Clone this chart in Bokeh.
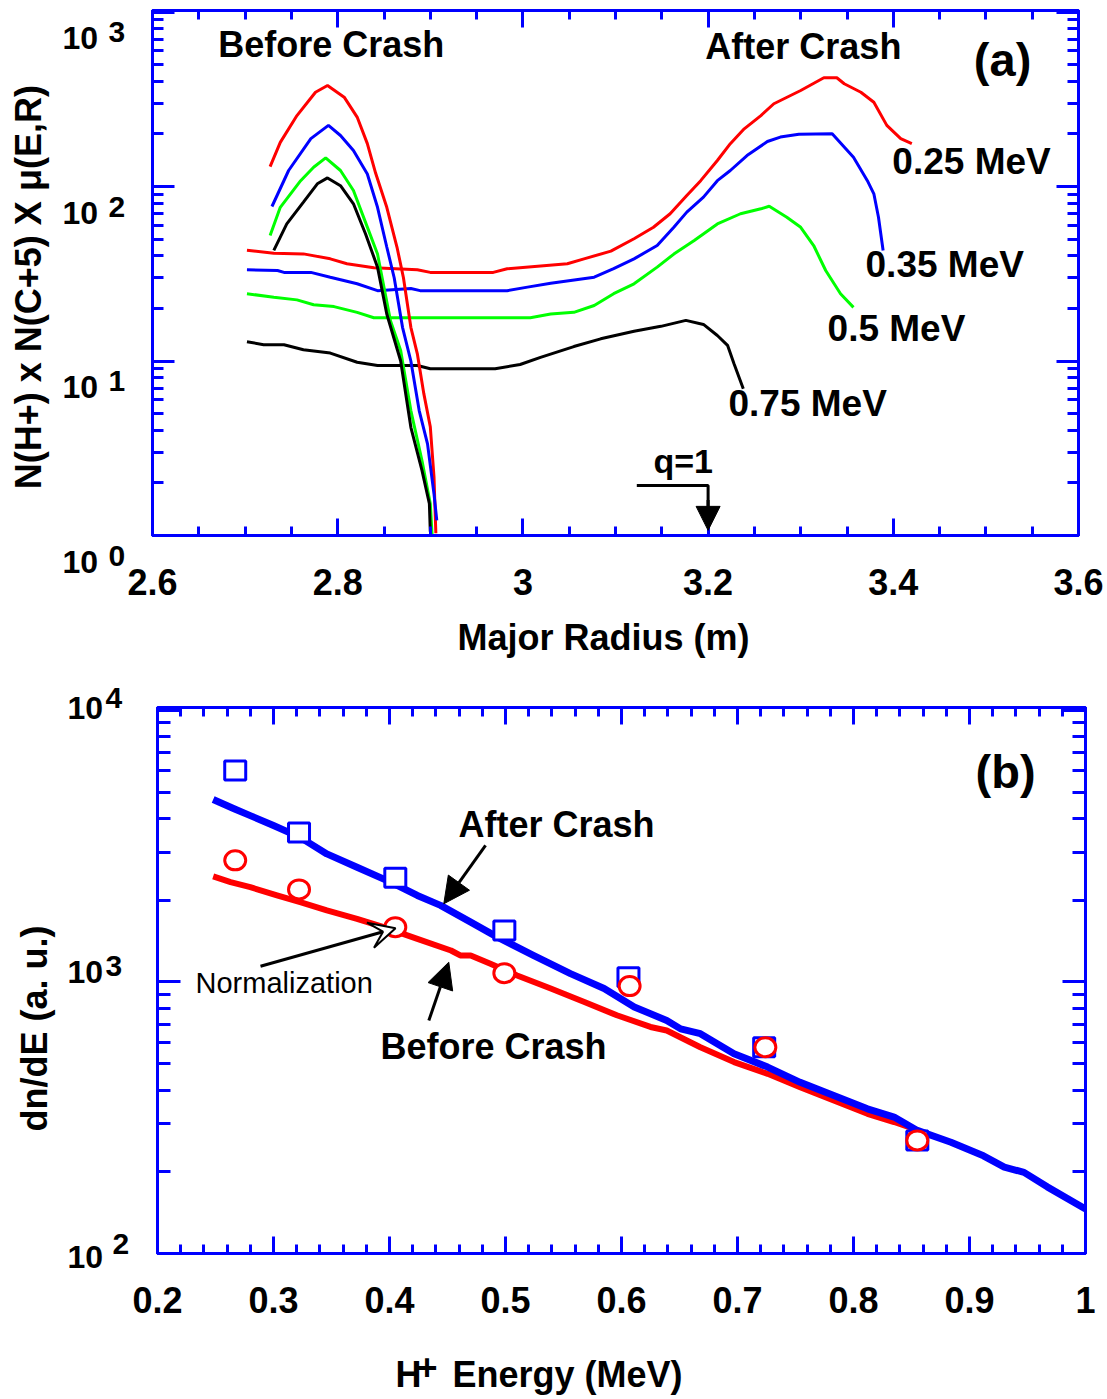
import math
from bokeh.plotting import figure
from bokeh.models import (FixedTicker, LinearAxis, LogAxis, Range1d, Label,
                          Arrow, NormalHead, VeeHead)
from bokeh.layouts import column, row
from bokeh.embed import file_html
from bokeh.resources import INLINE

FONT = "Liberation Sans"
BLUE = "#0000FF"
RED = "#FF0000"
GREEN = "#00FF00"
BLACK = "#000000"

# ---------------- (a) profiles versus major radius ----------------
energy_labels = ["0.25 MeV", "0.35 MeV", "0.5 MeV", "0.75 MeV"]

# before crash (peaked near 2.79 m)
r_before_025 = [2.727, 2.738, 2.756, 2.776, 2.789, 2.807, 2.821, 2.832, 2.841, 2.853,
                2.864, 2.871, 2.879, 2.886, 2.893, 2.900, 2.904, 2.906]
v_before_025 = [130, 179, 255, 347, 379, 325, 250, 176, 119, 76,
                45, 30, 15.6, 11, 6.5, 4.2, 2.16, 1.03]
r_before_035 = [2.729, 2.747, 2.771, 2.790, 2.803, 2.817, 2.832, 2.843, 2.853, 2.861,
                2.870, 2.879, 2.888, 2.897, 2.904, 2.907]
v_before_035 = [76.8, 123.5, 188, 224, 196, 161, 118, 76, 45, 30,
                15.6, 10, 5.2, 3.35, 1.73, 1.22]
r_before_050 = [2.727, 2.738, 2.760, 2.774, 2.787, 2.803, 2.817, 2.832, 2.843, 2.857,
                2.868, 2.879, 2.891, 2.900, 2.902]
v_before_050 = [52.4, 76, 108, 129, 146, 123.5, 94.8, 58.5, 41, 17,
                11.5, 5.2, 2.69, 1.52, 1.0]
r_before_075 = [2.731, 2.745, 2.763, 2.778, 2.789, 2.803, 2.817, 2.830, 2.843, 2.853,
                2.868, 2.879, 2.891, 2.899, 2.900]
v_before_075 = [43, 61, 81.3, 103.6, 112, 101, 79.6, 53.6, 34.5, 18.6,
                10, 4.17, 2.36, 1.52, 1.05]

# after crash (flat inside, bump near 3.3 m)
r_after_025 = [2.702, 2.731, 2.763, 2.792, 2.810, 2.839, 2.886, 2.900, 2.968, 2.983,
               3.048, 3.066, 3.095, 3.120, 3.141, 3.159, 3.177, 3.192, 3.210, 3.224,
               3.239, 3.257, 3.271, 3.300, 3.325, 3.339, 3.347, 3.365, 3.379, 3.393,
               3.408, 3.420]
v_after_025 = [43.1, 41.5, 41.1, 38.5, 36.1, 34.2, 33.3, 32.2, 32.2, 33.8,
               36.1, 38.5, 42.6, 50.2, 58.4, 69.8, 88.8, 108, 141, 176,
               214, 255, 298, 355, 420, 420, 388, 347, 304, 224,
               188, 176]
r_after_035 = [2.702, 2.735, 2.742, 2.771, 2.792, 2.821, 2.843, 2.879, 2.889, 2.983,
               3.005, 3.030, 3.077, 3.098, 3.120, 3.145, 3.163, 3.177, 3.195, 3.210,
               3.224, 3.242, 3.264, 3.278, 3.298, 3.334, 3.357, 3.372, 3.379, 3.384,
               3.389]
v_after_035 = [33.3, 33.0, 32.2, 32.2, 30.2, 27.7, 25.3, 26.0, 25.3, 25.3,
               26.5, 27.9, 30.2, 33.8, 38.5, 45.9, 58.4, 71.3, 86.9, 108,
               123.5, 150.5, 181, 192, 199, 200.5, 147, 108, 90.8, 66.7,
               43]
r_after_050 = [2.702, 2.731, 2.756, 2.774, 2.796, 2.821, 2.839, 3.008, 3.030, 3.055,
               3.077, 3.098, 3.120, 3.145, 3.163, 3.185, 3.210, 3.235, 3.257, 3.266,
               3.285, 3.300, 3.314, 3.327, 3.343, 3.357]
v_after_050 = [24.3, 23.2, 22.4, 21.0, 20.5, 19.0, 17.7, 17.7, 18.6, 19.0,
               20.8, 24.3, 27.7, 34.5, 41, 49, 61, 69.8, 74.5, 77.1,
               66.7, 58.4, 45.9, 33, 24.3, 20.3]
r_after_075 = [2.702, 2.720, 2.742, 2.763, 2.792, 2.821, 2.843, 2.886, 2.900, 2.970,
               2.997, 3.019, 3.055, 3.084, 3.120, 3.149, 3.176, 3.195, 3.210, 3.221,
               3.228, 3.238]
v_after_075 = [12.9, 12.4, 12.4, 11.6, 11.1, 9.84, 9.42, 9.42, 9.02, 9.02,
               9.55, 10.5, 12.1, 13.4, 14.8, 15.8, 17.1, 16.2, 14.0, 12.3,
               9.64, 6.93]

# ---------------- (b) spectra versus energy ----------------
e_after = [0.248, 0.266, 0.280, 0.300, 0.323, 0.346, 0.372, 0.401, 0.424, 0.444,
           0.470, 0.493, 0.524, 0.556, 0.585, 0.611, 0.639, 0.651, 0.668, 0.697,
           0.726, 0.754, 0.783, 0.812, 0.835, 0.855, 0.884, 0.912, 0.930, 0.947,
           0.967, 1.0]
dnde_after = [4700, 4345, 4100, 3770, 3410, 2963, 2647, 2332, 2083, 1915,
              1662, 1463, 1253, 1074, 946, 809, 722, 672, 645, 544,
              486, 427, 382, 341, 318, 284, 257, 229, 208, 199,
              176, 146]
e_before = [0.248, 0.263, 0.280, 0.303, 0.323, 0.346, 0.372, 0.395, 0.424, 0.453,
            0.461, 0.470, 0.487, 0.510, 0.539, 0.568, 0.596, 0.625, 0.639, 0.668,
            0.697, 0.726, 0.754, 0.783, 0.812, 0.835, 0.855]
dnde_before = [2449, 2332, 2235, 2083, 1968, 1834, 1708, 1592, 1442, 1306,
               1253, 1253, 1167, 1057, 946, 844, 754, 683, 663, 575,
               507, 459, 410, 366, 327, 305, 285]
e_squares = [0.267, 0.322, 0.405, 0.499, 0.606, 0.723, 0.855]
dnde_squares = [6010, 3550, 2421, 1549, 1042, 575, 261]
e_circles = [0.267, 0.322, 0.405, 0.499, 0.607, 0.724, 0.855]
dnde_circles = [2806, 2193, 1592, 1078, 966, 575, 261]

xa_ticks = [2.6, 2.8, 3, 3.2, 3.4, 3.6]
xa_labels = ["2.6", "2.8", "3", "3.2", "3.4", "3.6"]
ya_ticks = [1, 10, 100, 1000]
ya_exponents = ["0", "1", "2", "3"]
xb_ticks = [0.2, 0.3, 0.4, 0.5, 0.6, 0.7, 0.8, 0.9, 1]
xb_labels = ["0.2", "0.3", "0.4", "0.5", "0.6", "0.7", "0.8", "0.9", "1"]
yb_ticks = [100, 1000, 10000]
yb_exponents = ["2", "3", "4"]


def log_minors(lo_exp, hi_exp):
    return [m * 10 ** k for k in range(lo_exp, hi_exp) for m in range(2, 10)]


def style_axis(ax, ticks, major_in, minor_in, labels=None):
    ax.axis_line_color = BLUE
    ax.axis_line_width = 3
    ax.major_tick_line_color = BLUE
    ax.major_tick_line_width = 3
    ax.minor_tick_line_color = BLUE
    ax.minor_tick_line_width = 3
    ax.major_tick_in = major_in
    ax.major_tick_out = 0
    ax.minor_tick_in = minor_in
    ax.minor_tick_out = 0
    ax.major_label_text_font = FONT
    ax.major_label_text_font_style = "bold"
    ax.major_label_text_font_size = "36px"
    ax.major_label_text_color = BLACK
    if labels is None:
        # mirrored axes carry ticks only
        ax.major_label_overrides = {t: "" for t in ticks}
        ax.major_label_standoff = 0
    else:
        ax.major_label_overrides = labels
        ax.major_label_standoff = 33


def frame_axes(p, xticks, xticker, yticks, yticker, xmaj, xmin, ymaj, ymin, xlabels):
    for loc in ("below", "above"):
        ax = LinearAxis(ticker=xticker)
        style_axis(ax, xticks, xmaj, xmin, xlabels if loc == "below" else None)
        p.add_layout(ax, loc)
    for loc in ("left", "right"):
        ax = LogAxis(ticker=yticker)
        style_axis(ax, yticks, ymaj, ymin, None)
        p.add_layout(ax, loc)


def text(p, x, y, s, size=36, bold=True, xo=0, yo=0, align="left",
         baseline="alphabetic", angle=0.0):
    if baseline == "alphabetic":
        yo += round(0.385 * size)
    p.add_layout(Label(x=x, y=y, x_offset=xo, y_offset=yo, text=s,
                       text_font=FONT, text_font_size=f"{size}px",
                       text_font_style="bold" if bold else "normal",
                       text_color=BLACK, text_align=align,
                       text_baseline=baseline, angle=angle))


def main_figure(w, h, xr, yr, left, right, top, bottom):
    p = figure(width=w, height=h, x_range=xr, y_range=yr,
               y_axis_type="log", x_axis_location=None, y_axis_location=None,
               output_backend="svg", toolbar_location=None, frame_align=False,
               min_border_left=left, min_border_right=right,
               min_border_top=top, min_border_bottom=bottom)
    p.xgrid.visible = False
    p.ygrid.visible = False
    p.outline_line_color = BLUE
    p.outline_line_width = 3
    p.background_fill_color = "white"
    p.border_fill_color = "white"
    return p


def text_strip(w, h, xr, yr, y_log=False, left=0, right=0):
    # borderless canvas that only carries titles and tick labels
    s = figure(width=w, height=h, x_range=xr, y_range=yr,
               y_axis_type="log" if y_log else "linear",
               x_axis_location=None, y_axis_location=None, title=None,
               output_backend="svg", toolbar_location=None, frame_align=False,
               min_border_left=left, min_border_right=right,
               min_border_top=0, min_border_bottom=0)
    s.xgrid.visible = False
    s.ygrid.visible = False
    s.outline_line_color = None
    s.background_fill_color = "white"
    s.border_fill_color = "white"
    return s


def extended_log_range(lo, hi, frame_h, top, bottom):
    # same log scale as the plot frame, stretched over the whole strip height
    dec = frame_h / math.log10(hi / lo)
    return Range1d(lo * 10 ** (-bottom / dec), hi * 10 ** (top / dec))


# ================= panel (a) =================
A_LEFT, A_PAD = 126, 26
A_W, A_H = 1107 - A_LEFT, 610
A_TOP, A_BOTTOM, A_RIGHT = 10, 75, 29
A_STRIP_H = 70
xa_range = Range1d(2.6, 3.6)
ya_range = Range1d(1, 1020)
pa = main_figure(A_W, A_H, xa_range, ya_range, A_PAD, A_RIGHT, A_TOP, A_BOTTOM)
xa_ticker = FixedTicker(ticks=xa_ticks,
                        minor_ticks=[round(2.6 + 0.05 * i, 2) for i in range(21)])
ya_ticker = FixedTicker(ticks=ya_ticks, minor_ticks=log_minors(0, 3))
frame_axes(pa, xa_ticks, xa_ticker, ya_ticks, ya_ticker, 17, 9, 22, 11,
           {t: s for t, s in zip(xa_ticks, xa_labels)})

colors_a = [RED, BLUE, GREEN, BLACK]
befores = [(r_before_025, v_before_025), (r_before_035, v_before_035),
           (r_before_050, v_before_050), (r_before_075, v_before_075)]
afters = [(r_after_025, v_after_025), (r_after_035, v_after_035),
          (r_after_050, v_after_050), (r_after_075, v_after_075)]
for c, (r, v) in zip(colors_a, afters):
    pa.line(r, v, line_color=c, line_width=3)
for c, (r, v) in zip(colors_a, befores):
    pa.line(r, v, line_color=c, line_width=3)

# q=1 marker
pa.line([3.123, 3.2, 3.2], [1.934, 1.934, 1.45], line_color=BLACK, line_width=3)
pa.add_layout(Arrow(x_start=3.2, y_start=1.6, x_end=3.2, y_end=1.07,
                    line_color=BLACK, line_width=3,
                    end=NormalHead(size=24, fill_color=BLACK, line_color=BLACK)))
text(pa, 3.141, 2.266, "q=1", size=34)

text(pa, 2.671, 541.5, "Before Crash")
text(pa, 3.197, 527, "After Crash")
text(pa, 3.487, 421, "(a)", size=47)
for (x, y), s in zip([(3.399, 115.6), (3.370, 29.7), (3.329, 12.76), (3.222, 4.75)],
                     energy_labels):
    text(pa, x, y, s, size=37)

la = text_strip(A_LEFT, A_H + A_STRIP_H, Range1d(0, A_LEFT),
                extended_log_range(1, 1020, A_H - A_TOP - A_BOTTOM, A_TOP,
                                   A_BOTTOM + A_STRIP_H), y_log=True)
for k, e in zip(ya_ticks, ya_exponents):
    text(la, 62, k, "10", size=32, yo=-38)
    text(la, 108, k, e, size=30, yo=-32)
text(la, 28, 26.5, "N(H+) x N(C+5) X \u03bc(E,R)", size=36,
     align="center", baseline="middle", angle=math.pi / 2)

ba = text_strip(A_W, A_STRIP_H, xa_range, Range1d(0, A_STRIP_H),
                left=A_PAD, right=A_RIGHT)
text(ba, 3.087, 29, "Major Radius (m)", size=36, align="center")

# ================= panel (b) =================
B_LEFT, B_PAD = 131, 26
B_W, B_H = 1107 - B_LEFT, 650
B_TOP, B_BOTTOM, B_RIGHT = 27, 77, 22
B_STRIP_H = 69
xb_range = Range1d(0.2, 1.0)
yb_range = Range1d(100, 10257)
pb = main_figure(B_W, B_H, xb_range, yb_range, B_PAD, B_RIGHT, B_TOP, B_BOTTOM)
xb_ticker = FixedTicker(ticks=xb_ticks,
                        minor_ticks=[round(0.2 + 0.02 * i, 2) for i in range(41)])
yb_ticker = FixedTicker(ticks=yb_ticks, minor_ticks=log_minors(2, 4))
frame_axes(pb, xb_ticks, xb_ticker, yb_ticks, yb_ticker, 17, 9, 23, 13,
           {t: s for t, s in zip(xb_ticks, xb_labels)})

pb.line(e_before, dnde_before, line_color=RED, line_width=6, line_join="round")
pb.line(e_after, dnde_after, line_color=BLUE, line_width=7, line_join="round")
pb.rect(e_squares, dnde_squares, width=21, height=19, width_units="screen",
        height_units="screen", fill_color="white", line_color=BLUE, line_width=3)
pb.ellipse(e_circles, dnde_circles, width=21, height=19, width_units="screen",
           height_units="screen", fill_color="white", line_color=RED, line_width=3)

pb.add_layout(Arrow(x_start=0.4828, y_start=3184, x_end=0.4468, y_end=1941,
                    line_color=BLACK, line_width=3,
                    end=NormalHead(size=26, fill_color=BLACK, line_color=BLACK)))
pb.add_layout(Arrow(x_start=0.4339, y_start=721, x_end=0.4511, y_end=1183,
                    line_color=BLACK, line_width=3,
                    end=NormalHead(size=26, fill_color=BLACK, line_color=BLACK)))
pb.add_layout(Arrow(x_start=0.2888, y_start=1143, x_end=0.4052, y_end=1578,
                    line_color=BLACK, line_width=3,
                    end=VeeHead(size=26, fill_color="white", line_color=BLACK,
                                line_width=2)))

text(pb, 0.4595, 3378, "After Crash")
text(pb, 0.3922, 514, "Before Crash")
text(pb, 0.2328, 907, "Normalization", size=29, bold=False)
text(pb, 0.9052, 5117, "(b)", size=47)

lb = text_strip(B_LEFT, B_H + B_STRIP_H, Range1d(0, B_LEFT),
                extended_log_range(100, 10257, B_H - B_TOP - B_BOTTOM, B_TOP,
                                   B_BOTTOM + B_STRIP_H), y_log=True)
for k, e, yo10, xe, yoe in zip(yb_ticks, yb_exponents, [-15, -2, -10],
                               [112, 105, 105], [-2, 4, 0]):
    text(lb, 67, k, "10", size=32, yo=yo10)
    text(lb, xe, k, e, size=30, yo=yoe)
text(lb, 34, 674, "dn/dE (a. u.)", size=36, align="center",
     baseline="middle", angle=math.pi / 2)

bb = text_strip(B_W, B_STRIP_H, xb_range, Range1d(0, B_STRIP_H),
                left=B_PAD, right=B_RIGHT)
text(bb, 0.4052, 11, "H", size=36)
text(bb, 0.4232, 19, "+", size=36)
text(bb, 0.4543, 11, "Energy (MeV)", size=36)

layout = column(row(la, column(pa, ba, spacing=0), spacing=0),
                row(lb, column(pb, bb, spacing=0), spacing=0), spacing=0)
open("out.html", "w").write(file_html(layout, INLINE))
